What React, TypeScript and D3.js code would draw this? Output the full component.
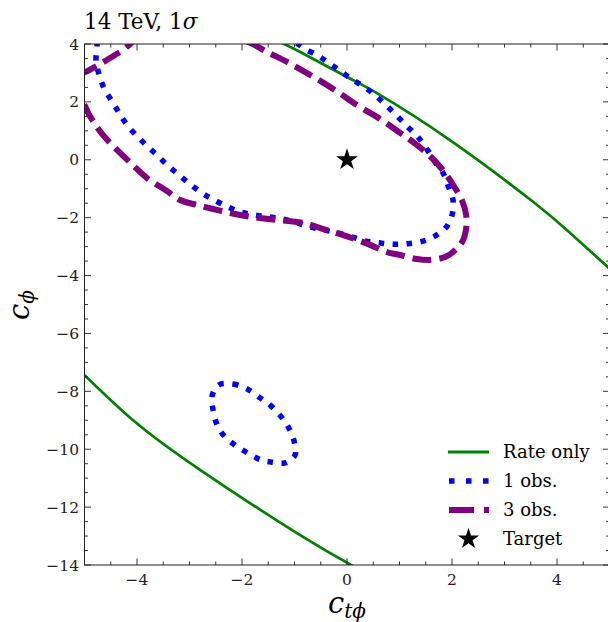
import React from "react";
import * as d3 from "d3";

type Pt = [number, number];

// Axis limits and ticks
const X_DOMAIN: [number, number] = [-5, 5];
const Y_DOMAIN: [number, number] = [-14, 4];
const X_MAJOR = [-4, -2, 0, 2, 4];
const Y_MAJOR = [-14, -12, -10, -8, -6, -4, -2, 0, 2, 4];

// Rate-only 1σ boundary (two branches)
const rateUpper: Pt[] = [
  [-1.3, 4.08], [-0.9, 3.73], [0, 2.86], [0.57, 2.3],
  [1.96, 0.68], [3.55, -1.46], [4.25, -2.53], [5.1, -3.92],
];
const rateLower: Pt[] = [
  [-5.09, -7.28], [-4.08, -8.99], [-2.8, -10.71],
  [-0.9, -12.96], [0.25, -14.17],
];

// 1-observable contour: main branch and isolated island
const oneObsMain: Pt[] = [
  [-4.76, 4.1], [-4.76, 4.0], [-4.78, 3.41], [-4.72, 2.93], [-4.63, 2.48], [-4.48, 2.03],
  [-4.34, 1.62], [-4.19, 1.2], [-4.0, 0.82], [-3.81, 0.48], [-3.6, 0.13], [-3.41, -0.21],
  [-3.2, -0.53], [-2.99, -0.84], [-2.76, -1.15], [-2.55, -1.37], [-2.27, -1.63], [-2.04, -1.8],
  [-1.75, -1.91], [-1.47, -1.98], [-1.22, -2.05], [-0.95, -2.18], [-0.7, -2.32], [-0.42, -2.43],
  [-0.17, -2.53], [0.1, -2.67], [0.34, -2.8], [0.61, -2.87], [0.88, -2.92], [1.14, -2.9],
  [1.43, -2.82], [1.68, -2.63], [1.89, -2.33], [2.0, -1.91], [2.02, -1.39], [1.92, -0.87],
  [1.83, -0.46], [1.68, -0.08], [1.52, 0.37], [1.35, 0.79], [1.16, 1.13], [0.97, 1.48],
  [0.78, 1.82], [0.57, 2.17], [0.36, 2.48], [0.11, 2.76], [-0.1, 3.03], [-0.32, 3.31],
  [-0.55, 3.59], [-0.8, 3.83], [-0.93, 4.0], [-1.0, 4.1],
];
const oneObsIsland: Pt[] = [
  [-2.44, -7.78], [-2.17, -7.75], [-1.9, -7.92], [-1.68, -8.2], [-1.47, -8.47], [-1.28, -8.82],
  [-1.12, -9.23], [-1.01, -9.71], [-0.99, -10.2], [-1.18, -10.47], [-1.45, -10.44], [-1.64, -10.37],
  [-1.89, -10.13], [-2.11, -9.89], [-2.34, -9.54], [-2.48, -9.13], [-2.55, -8.65], [-2.57, -8.16],
];

// 3-observable contour: corner segment and main branch
const threeObsCorner: Pt[] = [
  [-5.1, 2.96], [-4.99, 3.03], [-4.8, 3.21], [-4.61, 3.41], [-4.42, 3.62], [-4.27, 3.79], [-4.13, 4.0], [-4.07, 4.1],
];
const threeObsMain: Pt[] = [
  [-1.9, 4.08], [-1.79, 4.0], [-1.56, 3.76], [-1.14, 3.38], [-0.7, 2.93], [-0.23, 2.41],
  [0.19, 1.89], [0.63, 1.41], [1.01, 0.93], [1.26, 0.61], [1.58, 0.13], [1.87, -0.46],
  [2.06, -0.98], [2.19, -1.4], [2.27, -1.91], [2.27, -2.36], [2.21, -2.78], [2.06, -3.12],
  [1.87, -3.36], [1.58, -3.46], [1.33, -3.43], [1.01, -3.29], [0.76, -3.19], [0.44, -2.94],
  [0.15, -2.74], [-0.13, -2.57], [-0.51, -2.36], [-0.74, -2.22], [-0.95, -2.15], [-1.33, -2.08],
  [-1.66, -2.01], [-1.94, -1.94], [-2.23, -1.84], [-2.55, -1.7], [-2.86, -1.56], [-3.18, -1.39],
  [-3.43, -1.08], [-3.81, -0.63], [-4.08, -0.18], [-4.38, 0.34], [-4.65, 0.86], [-4.84, 1.34],
  [-4.93, 1.62], [-4.99, 1.86], [-5.05, 2.05],
];

const target: Pt = [0, 0];

const legendItems = ["Rate only", "1 obs.", "3 obs.", "Target"];

const GREEN = "#008000";
const BLUE = "#0000ff";
const PURPLE = "#800080";
const FONT = "'DejaVu Serif', serif";

export default function App() {
  const W = 608;
  const H = 622;
  const left = 84.5, right = 609.5, top = 44, bottom = 565;

  const x = d3.scaleLinear().domain(X_DOMAIN).range([left, right]);
  const y = d3.scaleLinear().domain(Y_DOMAIN).range([bottom, top]);

  const smooth = d3.line<Pt>().x((d) => x(d[0])).y((d) => y(d[1])).curve(d3.curveNatural);
  const open = d3.line<Pt>().x((d) => x(d[0])).y((d) => y(d[1])).curve(d3.curveCatmullRom.alpha(0.5));
  const closed = d3.line<Pt>().x((d) => x(d[0])).y((d) => y(d[1])).curve(d3.curveCatmullRomClosed.alpha(0.5));

  const xMinor = d3.range(X_DOMAIN[0], X_DOMAIN[1] + 0.001, 0.5).filter((v) => !X_MAJOR.includes(v));
  const yMinor = d3.range(Y_DOMAIN[0], Y_DOMAIN[1] + 0.001, 0.5).filter((v) => !Y_MAJOR.includes(v));
  const fmt = (v: number) => (v < 0 ? "\u2212" + Math.abs(v) : String(v));

  const star = d3.symbol(d3.symbolStar, 148)();
  const starLegend = d3.symbol(d3.symbolStar, 140)();

  const major = 6.5, minor = 3.5;
  const axisColor = "#222";

  const legX0 = 448, legX1 = 489, legText = 503;
  const legRows = [452, 481, 510, 539];

  return (
    <svg width={W} height={H} style={{ display: "block", position: "absolute", left: 0, top: 0 }}>
      <defs>
        <clipPath id="plot-area">
          <rect x={left} y={top} width={right - left} height={bottom - top} />
        </clipPath>
      </defs>
      <rect x={0} y={0} width={W} height={H} fill="#fff" />

      {/* title */}
      <text x={84} y={29} fontFamily={FONT} fontSize={21.5} fill="#000">
        14 TeV, 1<tspan fontStyle="italic">σ</tspan>
      </text>

      {/* contours */}
      <g clipPath="url(#plot-area)" fill="none">
        <path d={smooth(rateUpper) ?? ""} stroke={GREEN} strokeWidth={2.7} />
        <path d={smooth(rateLower) ?? ""} stroke={GREEN} strokeWidth={2.7} />
        <path d={open(oneObsMain) ?? ""} stroke={BLUE} strokeWidth={5.5} strokeDasharray="5.5 8.5" />
        <path d={closed(oneObsIsland) ?? ""} stroke={BLUE} strokeWidth={5.5} strokeDasharray="5.5 8.5" />
        <path d={open(threeObsCorner) ?? ""} stroke={PURPLE} strokeWidth={6} strokeDasharray="19 8" />
        <path d={open(threeObsMain) ?? ""} stroke={PURPLE} strokeWidth={6} strokeDasharray="19 8" />
        <path d={star ?? ""} transform={`translate(${x(target[0])},${y(target[1])})`} fill="#000" />
      </g>

      {/* frame */}
      <rect x={left} y={top} width={right - left} height={bottom - top} fill="none" stroke={axisColor} strokeWidth={1} />

      {/* ticks, inward on every side */}
      <g stroke={axisColor} strokeWidth={0.9}>
        {X_MAJOR.map((v) => (
          <g key={"xM" + v}>
            <line x1={x(v)} x2={x(v)} y1={bottom} y2={bottom - major} />
            <line x1={x(v)} x2={x(v)} y1={top} y2={top + major} />
          </g>
        ))}
        {xMinor.map((v) => (
          <g key={"xm" + v}>
            <line x1={x(v)} x2={x(v)} y1={bottom} y2={bottom - minor} />
            <line x1={x(v)} x2={x(v)} y1={top} y2={top + minor} />
          </g>
        ))}
        {Y_MAJOR.map((v) => (
          <g key={"yM" + v}>
            <line x1={left} x2={left + major} y1={y(v)} y2={y(v)} />
            <line x1={right} x2={right - major} y1={y(v)} y2={y(v)} />
          </g>
        ))}
        {yMinor.map((v) => (
          <g key={"ym" + v}>
            <line x1={left} x2={left + minor} y1={y(v)} y2={y(v)} />
            <line x1={right} x2={right - minor} y1={y(v)} y2={y(v)} />
          </g>
        ))}
      </g>

      {/* tick labels */}
      <g fontFamily={FONT} fontSize={15.5} fill={axisColor}>
        {X_MAJOR.map((v) => (
          <text key={"xl" + v} x={x(v)} y={585} textAnchor="middle">
            {fmt(v)}
          </text>
        ))}
        {Y_MAJOR.map((v) => (
          <text key={"yl" + v} x={79} y={y(v)} dy="0.36em" textAnchor="end">
            {fmt(v)}
          </text>
        ))}
      </g>

      {/* axis labels */}
      <text x={347} y={613} textAnchor="middle" fontFamily={FONT} fontStyle="italic" fontSize={29} fill="#000">
        c<tspan fontSize={20} dy={5}>tϕ</tspan>
      </text>
      <g transform="translate(29,305) rotate(-90)">
        <text x={0} y={0} textAnchor="middle" fontFamily={FONT} fontStyle="italic" fontSize={29} fill="#000">
          c<tspan fontSize={20} dy={5}>ϕ</tspan>
        </text>
      </g>

      {/* legend */}
      <g>
        <line x1={legX0} x2={legX1} y1={legRows[0]} y2={legRows[0]} stroke={GREEN} strokeWidth={3.2} />
        <line x1={legX0 + 1} x2={legX1} y1={legRows[1]} y2={legRows[1]} stroke={BLUE} strokeWidth={5.5} strokeDasharray="5.5 11.5" />
        <line x1={legX0 + 1} x2={legX1} y1={legRows[2]} y2={legRows[2]} stroke={PURPLE} strokeWidth={6} strokeDasharray="25 10" />
        <path d={starLegend ?? ""} transform={`translate(${(legX0 + legX1) / 2},${legRows[3]})`} fill="#000" />
        {legendItems.map((t, i) => (
          <text key={t} x={legText} y={legRows[i]} dy="0.35em" fontFamily={FONT} fontSize={18} fill="#000">
            {t}
          </text>
        ))}
      </g>
    </svg>
  );
}
